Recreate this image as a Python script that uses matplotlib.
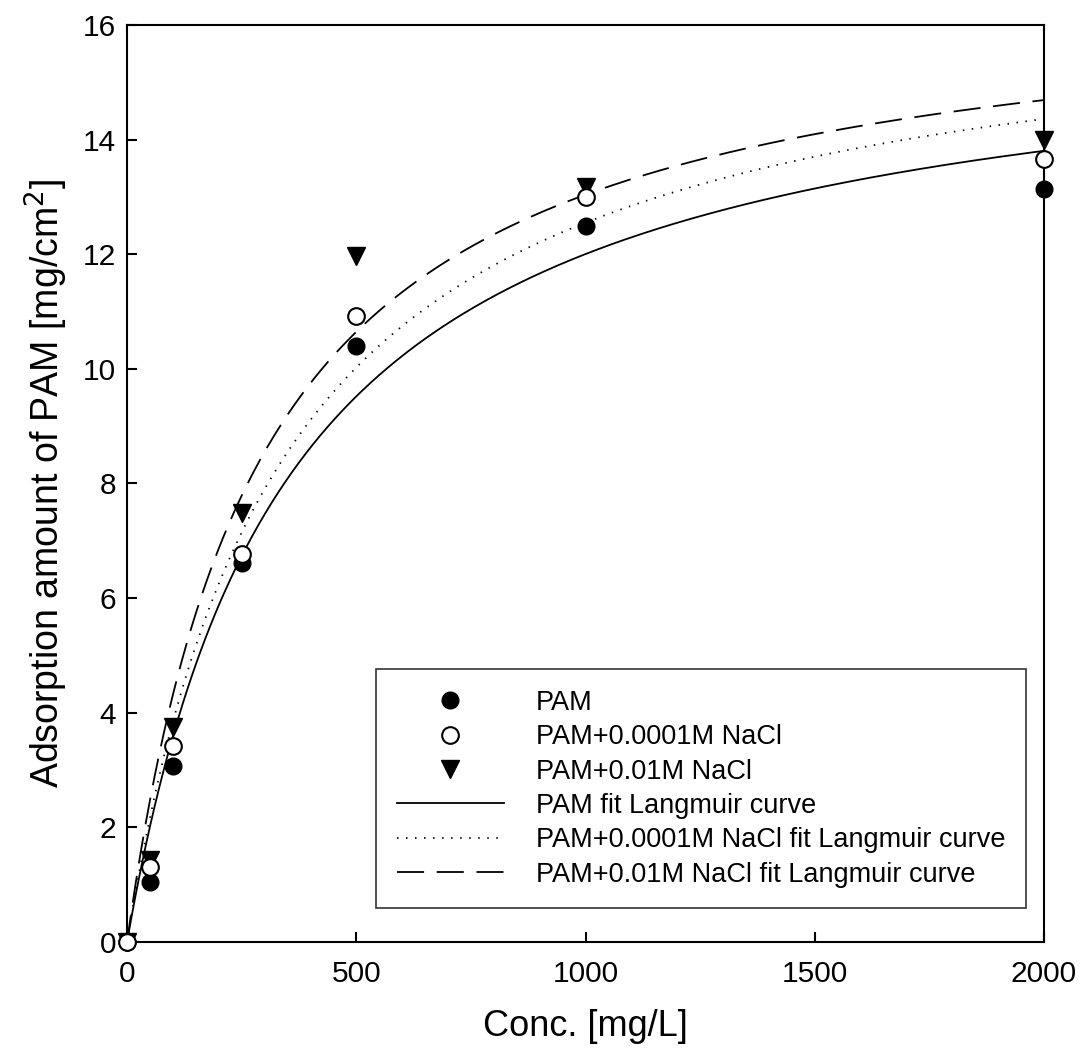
import matplotlib.pyplot as plt
import numpy as np

plt.rcParams['font.family'] = ['Liberation Sans', 'DejaVu Sans']

# measured adsorption data
conc = [0, 50, 100, 250, 500, 1000, 2000]
pam = [0, 1.05, 3.07, 6.61, 10.40, 12.50, 13.13]
pam_low_nacl = [0, 1.31, 3.42, 6.77, 10.93, 13.00, 13.67]
pam_high_nacl = [0, 1.43, 3.75, 7.49, 11.97, 13.18, 14.00]

# Langmuir fit parameters: q = qmax * C / (kd + C)
fit_qmax = [16.24, 16.78, 16.82]
fit_kd = [353, 337, 290]

series_labels = ['PAM', 'PAM+0.0001M NaCl', 'PAM+0.01M NaCl']
fit_labels = ['PAM fit Langmuir curve',
              'PAM+0.0001M NaCl fit Langmuir curve',
              'PAM+0.01M NaCl fit Langmuir curve']

fig = plt.figure(figsize=(10.83, 10.62), dpi=100)
ax = fig.add_axes([0.1173, 0.113, 0.8467, 0.8635])

ms = 12
pts = []
pts.append(ax.plot(conc, pam, 'o', color='black', ms=ms,
                   clip_on=False, zorder=5, label=series_labels[0])[0])
pts.append(ax.plot(conc, pam_low_nacl, 'o', mfc='white', mec='black', mew=1.5,
                   ms=ms, clip_on=False, zorder=5, label=series_labels[1])[0])
pts.append(ax.plot(conc, pam_high_nacl, 'v', color='black', ms=ms + 1,
                   clip_on=False, zorder=4, label=series_labels[2])[0])

xc = np.linspace(0, 2000, 400)
styles = [dict(linestyle='-'),
          dict(linestyle=(0, (0.8, 4.2))),
          dict(linestyle=(0, (15, 7)))]
lines = []
for q, k, st, lab in zip(fit_qmax, fit_kd, styles, fit_labels):
    lines.append(ax.plot(xc, q * xc / (k + xc), color='black', lw=1.3,
                         label=lab, **st)[0])

ax.set_xlim(0, 2000)
ax.set_ylim(0, 16)
ax.set_xticks([0, 500, 1000, 1500, 2000])
ax.set_yticks(range(0, 17, 2))
ax.tick_params(direction='in', length=7, width=1.5, labelsize=21.5,
               top=False, right=False)
ax.tick_params(axis='x', pad=13)
ax.tick_params(axis='y', pad=8)
for s in ax.spines.values():
    s.set_linewidth(1.5)

ax.set_xlabel('Conc. [mg/L]', fontsize=26, labelpad=15)
ax.set_ylabel('Adsorption amount of PAM [mg/cm$^2$]', fontsize=27, labelpad=9)

leg = ax.legend(handles=pts + lines, loc='lower right',
                bbox_to_anchor=(0.9804, 0.037), fontsize=19.5, frameon=True,
                fancybox=False, edgecolor='black', handlelength=3.95,
                handletextpad=1.2, labelspacing=0.31, borderpad=0.75,
                borderaxespad=0)
leg.get_frame().set_linewidth(1.2)

fig.savefig('out.png', dpi=100)
